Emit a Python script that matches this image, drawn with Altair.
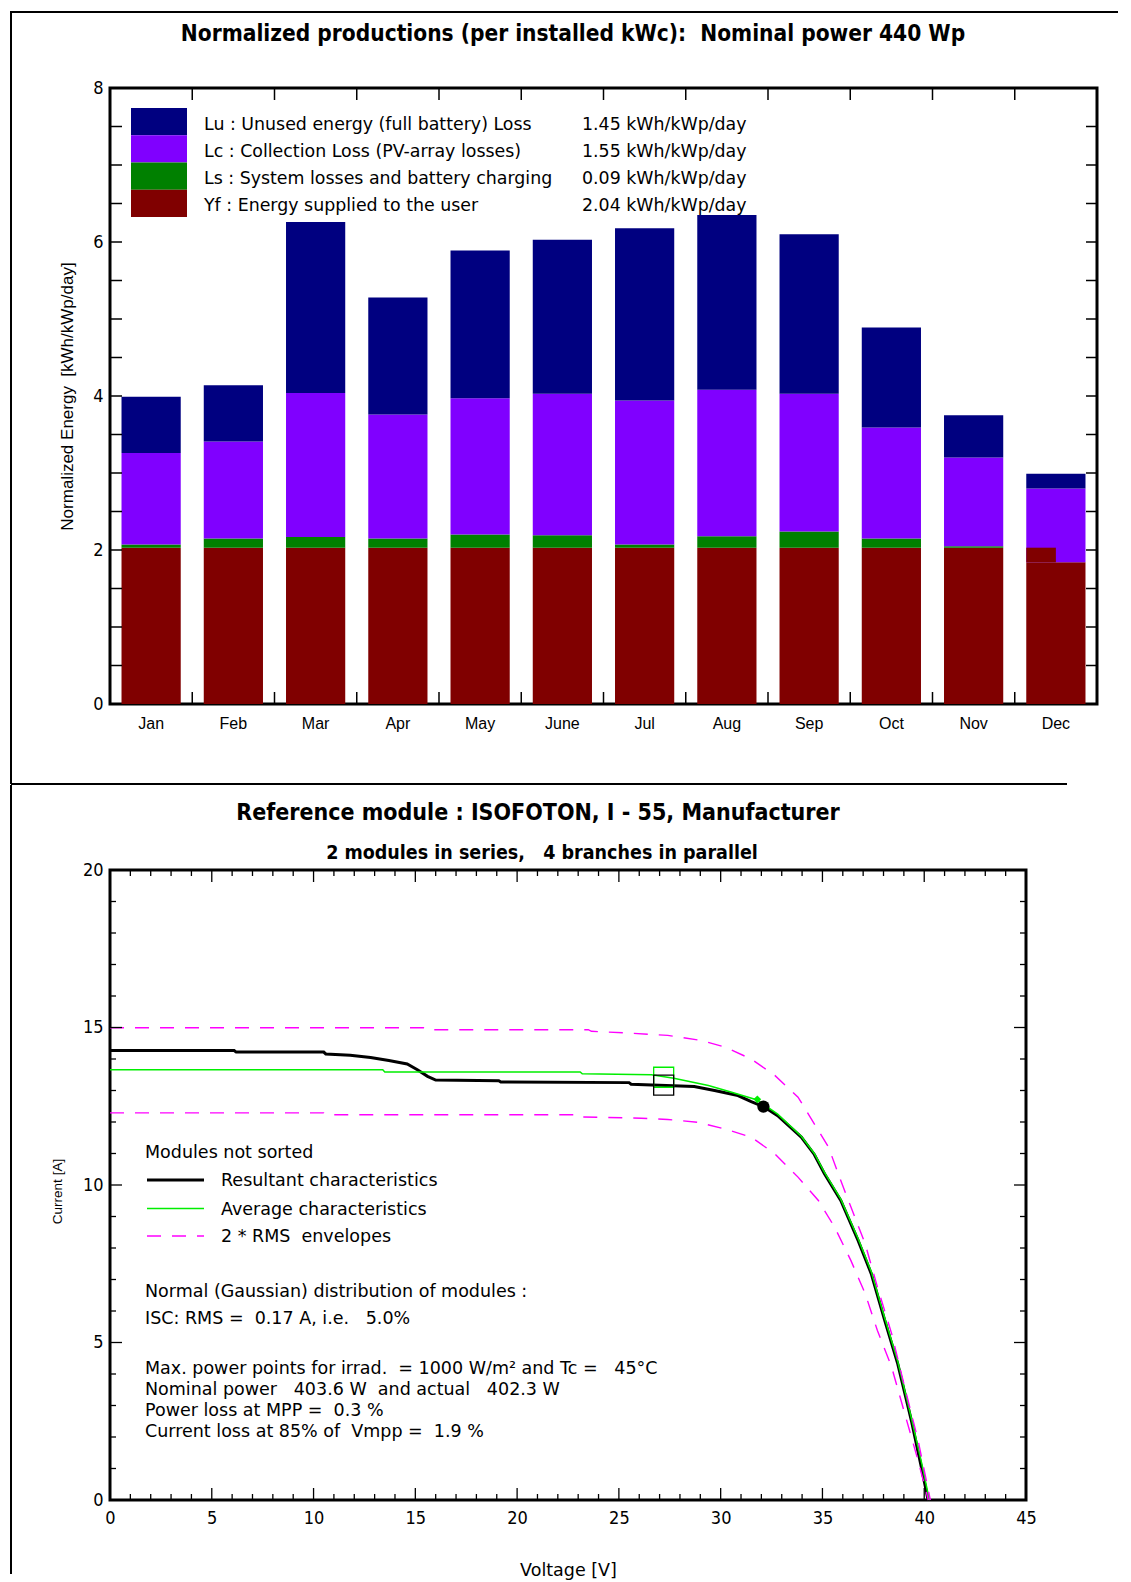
import re
import altair as alt
import pandas as pd

# ---------------- data: normalized productions (top chart) ----------------
months = ["Jan", "Feb", "Mar", "Apr", "May", "June", "Jul", "Aug", "Sep", "Oct", "Nov", "Dec"]
yf_user = [2.03, 2.03, 2.03, 2.03, 2.03, 2.03, 2.03, 2.03, 2.03, 2.03, 2.03, 1.84]
ls_system = [0.04, 0.12, 0.14, 0.12, 0.17, 0.16, 0.04, 0.15, 0.21, 0.12, 0.02, 0.00]
lc_collection = [1.19, 1.26, 1.87, 1.61, 1.77, 1.84, 1.87, 1.90, 1.79, 1.44, 1.15, 0.96]
lu_unused = [0.73, 0.73, 2.22, 1.52, 1.92, 2.00, 2.24, 2.27, 2.07, 1.30, 0.55, 0.19]
dec_yf_overhang = [1.84, 2.03]

comp_keys = ["Lu", "Lc", "Ls", "Yf"]
comp_colors = ["#000080", "#8000ff", "#008000", "#800000"]
comp_labels = [
    "Lu : Unused energy (full battery) Loss",
    "Lc : Collection Loss (PV-array losses)",
    "Ls : System losses and battery charging",
    "Yf : Energy supplied to the user",
]
comp_values = ["1.45 kWh/kWp/day", "1.55 kWh/kWp/day", "0.09 kWh/kWp/day", "2.04 kWh/kWp/day"]
energy_ticks = [0.5, 1.0, 1.5, 2.0, 2.5, 3.0, 3.5, 4.0, 4.5, 5.0, 5.5, 6.0, 6.5, 7.0, 7.5]
energy_labels = [0, 2, 4, 6, 8]

# ---------------- data: I-V characteristics (bottom chart) ----------------
res_v = [0, 6.1, 6.2, 10.5, 10.6, 11.8, 12.8, 13.7, 14.6, 15.1, 15.6, 16.0, 19.1, 19.2, 25.5, 25.6,
         28.7, 29.7, 30.85, 31.5, 32.1, 32.8, 33.96, 34.6, 35.1, 35.9, 36.75, 37.4, 38.06, 38.7,
         39.37, 39.86, 40.19]
res_i = [14.27, 14.27, 14.22, 14.22, 14.16, 14.12, 14.05, 13.95, 13.84, 13.66, 13.45, 13.33, 13.31,
         13.27, 13.25, 13.20, 13.13, 13.00, 12.84, 12.65, 12.49, 12.20, 11.52, 10.97, 10.36, 9.51,
         8.24, 7.18, 5.70, 4.32, 2.52, 1.04, 0.0]
avg_v = [0, 13.4, 13.5, 23.1, 23.2, 26.6, 27.7, 29.4, 30.5, 31.8, 32.8, 33.96, 34.6, 35.1, 35.9,
         36.75, 37.4, 38.06, 38.7, 39.37, 39.9, 40.25]
avg_i = [13.66, 13.66, 13.59, 13.59, 13.53, 13.50, 13.39, 13.16, 12.95, 12.70, 12.25, 11.55, 11.0,
         10.4, 9.55, 8.3, 7.25, 5.78, 4.4, 2.6, 1.1, 0.0]
up_v = [0, 15.4, 15.5, 23.5, 23.65, 25.3, 27.4, 29.05, 30.2, 31.5, 32.66, 33.8, 34.6, 35.3, 35.9,
        36.4, 37.1, 37.7, 38.4, 39.0, 39.7, 40.3]
up_i = [14.99, 14.99, 14.93, 14.93, 14.88, 14.83, 14.75, 14.59, 14.38, 14.0, 13.48, 12.79, 11.94,
        11.2, 10.14, 9.3, 8.13, 6.76, 5.28, 3.69, 1.89, 0.0]
low_v = [0, 10.5, 10.6, 23.1, 23.2, 26.1, 27.4, 28.9, 30.2, 31.5, 32.66, 33.8, 34.8, 35.6, 36.4,
         37.1, 37.7, 38.4, 39.0, 39.7, 40.2]
low_i = [12.29, 12.29, 12.23, 12.23, 12.16, 12.12, 12.08, 11.99, 11.78, 11.52, 10.99, 10.25, 9.51,
         8.66, 7.6, 6.55, 5.38, 4.22, 2.84, 1.25, 0.0]
vmpp85_v = [27.2, 27.2]
vmpp85_i = [13.42, 13.17]
vmpp85_color = ["#00ee00", "black"]
mpp_avg = [31.8, 12.72]
mpp_res = [32.1, 12.49]
volt_labels = [0, 5, 10, 15, 20, 25, 30, 35, 40, 45]
volt_major = [5, 10, 15, 20, 25, 30, 35, 40]
volt_minor = [v for v in range(1, 45) if v % 5 != 0]
cur_labels = [0, 5, 10, 15, 20]
cur_major = [5, 10, 15]
cur_minor = [c for c in range(1, 20) if c % 5 != 0]

bottom_header = "Modules not sorted"
bottom_legend = ["Resultant characteristics", "Average characteristics", "2 * RMS  envelopes"]
notes_a = ["Normal (Gaussian) distribution of modules :", "ISC: RMS =  0.17 A, i.e.   5.0%"]
notes_b = [
    "Max. power points for irrad.  = 1000 W/m\u00b2 and Tc =   45\u00b0C",
    "Nominal power   403.6 W  and actual   402.3 W",
    "Power loss at MPP =  0.3 %",
    "Current loss at 85% of  Vmpp =  1.9 %",
]

# ---------------- style ----------------
W1, H1 = 987, 616
W2, H2 = 916, 630
COND = "DejaVu Sans Condensed, Liberation Sans Narrow, sans-serif"
BODY = "DejaVu Sans, sans-serif"
SANS = "Liberation Sans, Arial, sans-serif"
LX = -99      # left frame line, relative to plot left
one = pd.DataFrame({"k": [0]})


def nb(s):
    # keep runs of spaces visible in SVG
    return re.sub(r" {2,}", lambda m: "\u00a0" * len(m.group()), s)


def vrule(x, y, y2, w=2):
    return alt.Chart(one).mark_rule(color="black", strokeWidth=w).encode(
        x=alt.value(x), y=alt.value(y), y2=alt.value(y2))


def hrule(x, x2, y, w=2, color="black", dash=None):
    kw = dict(color=color, strokeWidth=w)
    if dash:
        kw["strokeDash"] = dash
    return alt.Chart(one).mark_rule(**kw).encode(
        x=alt.value(x), x2=alt.value(x2), y=alt.value(y))


def label(txt, x, y, size=17.5, font=BODY, weight="normal", align="left"):
    return alt.Chart(one).mark_text(
        text=nb(txt), align=align, baseline="middle", fontSize=size, font=font,
        fontWeight=weight, color="black").encode(x=alt.value(x), y=alt.value(y))


# ================= top chart =================
rows = []
for i, m in enumerate(months):
    for key, vals, o in [("Yf", yf_user, 0), ("Ls", ls_system, 1), ("Lc", lc_collection, 2), ("Lu", lu_unused, 3)]:
        rows.append({"month": m, "comp": key, "value": vals[i], "stack_order": o})
df_bars = pd.DataFrame(rows)

step1 = W1 / 12.0
bandw1 = step1 * 0.72
xs1 = alt.Scale(domain=months, paddingInner=0.28, paddingOuter=0.14)
ys1 = alt.Scale(domain=[0, 8], nice=False, zero=False)
cs = alt.Scale(domain=comp_keys, range=comp_colors)
xax1 = alt.Axis(title=None, labelAngle=0, ticks=False, tickSize=0, domain=False, grid=False,
                labelPadding=11, labelFontSize=16, labelFont=SANS, labelColor="black")
xm = alt.X("month:N", sort=months, scale=xs1, axis=xax1)

bars = alt.Chart(df_bars).mark_bar().encode(
    x=xm,
    y=alt.Y("value:Q", stack="zero", scale=ys1,
            axis=alt.Axis(values=energy_labels, format="d", ticks=False, tickSize=0, domain=False,
                          grid=False, labelFlush=False, labelPadding=7, labelFontSize=18,
                          labelFont=COND, labelColor="black",
                          title=nb("Normalized Energy  [kWh/kWp/day]"),
                          titleFont=SANS, titleFontSize=17, titleFontWeight="normal",
                          titleColor="black", titleX=-43, titleY=H1 / 2, titleAngle=270,
                          titleBaseline="middle", titleAlign="center")),
    color=alt.Color("comp:N", scale=cs, legend=None),
    order=alt.Order("stack_order:Q"),
)

df_dec = pd.DataFrame({"month": ["Dec"], "lo": [dec_yf_overhang[0]], "hi": [dec_yf_overhang[1]], "comp": ["Yf"]})
dec = alt.Chart(df_dec).mark_bar(width={"band": 0.5}, xOffset=-bandw1 / 4).encode(
    x=xm, y=alt.Y("lo:Q", scale=ys1, axis=None), y2="hi:Q",
    color=alt.Color("comp:N", scale=cs, legend=None))

df_et = pd.DataFrame({"v": energy_ticks})
yt_left = alt.Chart(df_et).mark_rule(color="black", strokeWidth=1.5).encode(
    y=alt.Y("v:Q", scale=ys1, axis=None), x=alt.value(0), x2=alt.value(12))
yt_right = alt.Chart(df_et).mark_rule(color="black", strokeWidth=1.5).encode(
    y=alt.Y("v:Q", scale=ys1, axis=None), x=alt.value(W1 - 11), x2=alt.value(W1))
df_mb = pd.DataFrame({"month": months[1:]})
xt_bot = alt.Chart(df_mb).mark_rule(color="black", strokeWidth=1.5, xOffset=-step1 / 2).encode(
    x=xm, y=alt.value(H1 - 12), y2=alt.value(H1))
xt_top = alt.Chart(df_mb).mark_rule(color="black", strokeWidth=1.5, xOffset=-step1 / 2).encode(
    x=xm, y=alt.value(0), y2=alt.value(12))

df_leg = pd.DataFrame({"comp": comp_keys, "label": [nb(s) for s in comp_labels], "val": comp_values})
leg_y = alt.Y("comp:N", sort=comp_keys, scale=alt.Scale(range=[20, 129], paddingInner=0, paddingOuter=0), axis=None)
leg_sw = alt.Chart(df_leg).mark_bar().encode(
    y=leg_y, x=alt.value(21), x2=alt.value(77), color=alt.Color("comp:N", scale=cs, legend=None))
leg_tx = alt.Chart(df_leg).mark_text(align="left", baseline="middle", dy=3, fontSize=17.4, font=BODY, color="black").encode(
    y=leg_y, x=alt.value(94), text="label:N")
leg_val = alt.Chart(df_leg).mark_text(align="left", baseline="middle", dy=3, fontSize=17.4, font=BODY, color="black").encode(
    y=leg_y, x=alt.value(472), text="val:N")

top_title = label("Normalized productions (per installed kWc):  Nominal power 440 Wp", 463, -54,
                  size=22.5, font=COND, weight="bold", align="center")

top = alt.layer(
    bars, dec, yt_left, yt_right, xt_bot, xt_top, leg_sw, leg_tx, leg_val, top_title,
    hrule(LX, 1008, -76),
    vrule(LX, -77, H1 + 80),
    hrule(LX, 957, H1 + 80),
).resolve_scale(y="independent").properties(width=W1, height=H1)

# ================= bottom chart =================
xs2 = alt.Scale(domain=[0, 45], nice=False, zero=False)
ys2 = alt.Scale(domain=[0, 20], nice=False, zero=False)


def curve_df(vs, cs_):
    return pd.DataFrame({"V": vs, "I": cs_, "idx": list(range(len(vs)))})


xax = alt.Axis(values=volt_labels, format="d", ticks=False, tickSize=0, domain=False, grid=False,
               labelFlush=False, labelPadding=9, labelFontSize=18, labelFont=COND, labelColor="black",
               title="Voltage [V]", titleFont=BODY, titleFontSize=17.5, titleFontWeight="normal",
               titleColor="black", titleX=W2 / 2, titleY=70, titleBaseline="middle", titleAlign="center")
yax = alt.Axis(values=cur_labels, format="d", ticks=False, tickSize=0, domain=False, grid=False,
               labelFlush=False, labelPadding=7, labelFontSize=18, labelFont=COND, labelColor="black",
               title="Current [A]", titleFont=SANS, titleFontSize=13.5, titleFontWeight="normal",
               titleColor="black", titleX=-53, titleY=H2 / 2 + 6, titleAngle=270,
               titleBaseline="middle", titleAlign="center")
XV = alt.X("V:Q", scale=xs2, axis=xax)
YI = alt.Y("I:Q", scale=ys2, axis=yax)

res_line = alt.Chart(curve_df(res_v, res_i)).mark_line(color="black", strokeWidth=3).encode(
    x=XV, y=YI, order="idx:Q")
avg_line = alt.Chart(curve_df(avg_v, avg_i)).mark_line(color="#00ee00", strokeWidth=1.5).encode(
    x=XV, y=YI, order="idx:Q")
up_line = alt.Chart(curve_df(up_v, up_i)).mark_line(color="#ff00ff", strokeWidth=1.4, strokeDash=[14, 11]).encode(
    x=XV, y=YI, order="idx:Q")
low_line = alt.Chart(curve_df(low_v, low_i)).mark_line(color="#ff00ff", strokeWidth=1.4, strokeDash=[14, 11]).encode(
    x=XV, y=YI, order="idx:Q")

df_sq = pd.DataFrame({"V": vmpp85_v, "I": vmpp85_i, "c": vmpp85_color})
squares = alt.Chart(df_sq).mark_point(shape="square", filled=False, size=400, strokeWidth=1.3, opacity=1).encode(
    x=XV, y=YI, color=alt.Color("c:N", scale=None))
mpp_g = alt.Chart(pd.DataFrame({"V": [mpp_avg[0]], "I": [mpp_avg[1]]})).mark_point(
    shape="diamond", filled=True, size=60, color="#00ee00", opacity=1).encode(x=XV, y=YI)
mpp_b = alt.Chart(pd.DataFrame({"V": [mpp_res[0]], "I": [mpp_res[1]]})).mark_point(
    shape="circle", filled=True, size=150, color="black", opacity=1).encode(x=XV, y=YI)

df_vmaj = pd.DataFrame({"V": volt_major})
df_vmin = pd.DataFrame({"V": volt_minor})
df_cmaj = pd.DataFrame({"I": cur_major})
df_cmin = pd.DataFrame({"I": cur_minor})


def xticks(df, y, y2):
    return alt.Chart(df).mark_rule(color="black", strokeWidth=1.3).encode(
        x=XV, y=alt.value(y), y2=alt.value(y2))


def yticks(df, x, x2):
    return alt.Chart(df).mark_rule(color="black", strokeWidth=1.3).encode(
        y=YI, x=alt.value(x), x2=alt.value(x2))


tick_layers = [
    xticks(df_vmaj, H2 - 12, H2), xticks(df_vmin, H2 - 6, H2),
    xticks(df_vmaj, 0, 12), xticks(df_vmin, 0, 6),
    yticks(df_cmaj, 0, 12), yticks(df_cmin, 0, 6),
    yticks(df_cmaj, W2 - 12, W2), yticks(df_cmin, W2 - 6, W2),
]

legend_layers = [
    label(bottom_header, 35, 283),
    hrule(37, 94, 310, w=3),
    hrule(37, 94, 338.5, w=1.5, color="#00ee00"),
    hrule(37, 94, 366, w=1.4, color="#ff00ff", dash=[14, 11]),
    label(bottom_legend[0], 111, 311),
    label(bottom_legend[1], 111, 339.5),
    label(bottom_legend[2], 111, 367),
]
note_y = [421.5, 449, 499, 519.5, 540.5, 561.5]
note_layers = [label(t, 35, y) for t, y in zip(notes_a + notes_b, note_y)]

bottom_titles = [
    label("Reference module : ISOFOTON, I - 55, Manufacturer", 428, -57, size=23, font=COND,
          weight="bold", align="center"),
    label("2 modules in series,   4 branches in parallel", 432, -17.5, size=19.5, font=COND,
          weight="bold", align="center"),
]

bottom = alt.layer(
    res_line, avg_line, up_line, low_line, squares, mpp_g, mpp_b,
    *tick_layers, *legend_layers, *note_layers, *bottom_titles,
    vrule(LX, -85, H2 + 74),
).properties(width=W2, height=H2)

chart = alt.vconcat(top, bottom, spacing=-5, padding=0).configure_view(stroke="black", strokeWidth=3)

chart.save("out.html", embed_options={"renderer": "svg", "actions": False})
